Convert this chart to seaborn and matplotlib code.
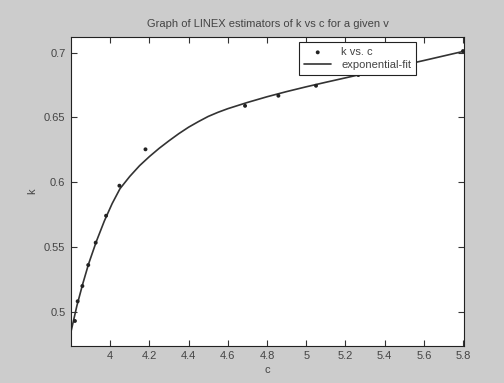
import matplotlib
matplotlib.use("Agg")
import matplotlib.pyplot as plt
import seaborn as sns
import pandas as pd

# data points (k vs. c)
c_pts = [3.820, 3.834, 3.858, 3.888, 3.926, 3.979, 4.047, 4.180, 4.688, 4.858, 5.050, 5.266, 5.800]
k_pts = [0.4928, 0.5080, 0.5198, 0.5360, 0.5533, 0.5741, 0.5973, 0.6254, 0.6590, 0.6668, 0.6745, 0.6828, 0.7013]

# exponential fit curve
c_fit = [3.80, 3.83, 3.86, 3.89, 3.93, 3.97, 4.01, 4.05, 4.10, 4.15, 4.20, 4.25, 4.30, 4.35,
         4.40, 4.45, 4.50, 4.55, 4.60, 4.70, 4.80, 4.90, 5.00, 5.10, 5.20, 5.30, 5.40, 5.50,
         5.60, 5.70, 5.80]
k_fit = [0.4846, 0.5045, 0.5215, 0.5370, 0.5545, 0.5700, 0.5835, 0.5950, 0.6045, 0.6128,
         0.6198, 0.6262, 0.6320, 0.6375, 0.6425, 0.6468, 0.6508, 0.6540, 0.6568, 0.6616,
         0.6660, 0.6700, 0.6737, 0.6772, 0.6806, 0.6840, 0.6873, 0.6906, 0.6940, 0.6975,
         0.7010]

xticks = [4, 4.2, 4.4, 4.6, 4.8, 5, 5.2, 5.4, 5.6, 5.8]
yticks = [0.5, 0.55, 0.6, 0.65, 0.7]

sns.set_style("ticks")
plt.rcParams['font.family'] = ['Liberation Sans', 'DejaVu Sans']

fig = plt.figure(figsize=(5.04, 3.83), dpi=100, facecolor="#cccccc")
ax = fig.add_axes([71/504, 1-345.7/383, 393/504, 309/383])
ax.set_facecolor("white")

df_pts = pd.DataFrame({"c": c_pts, "k": k_pts})
df_fit = pd.DataFrame({"c": c_fit, "k": k_fit})

sns.scatterplot(data=df_pts, x="c", y="k", ax=ax, color="#222222", s=8, marker="o",
                edgecolor="none", label="k vs. c", zorder=3)
sns.lineplot(data=df_fit, x="c", y="k", ax=ax, color="#333333", lw=1.2,
             label="exponential-fit", zorder=2)

ax.set_xlim(3.8, 5.805)
ax.set_ylim(0.4737, 0.7124)
ax.set_xticks(xticks)
ax.set_xticklabels([f"{t:g}" for t in xticks])
ax.set_yticks(yticks)
ax.set_yticklabels([f"{t:g}" for t in yticks])
ax.tick_params(direction="in", length=4, width=0.8, top=True, right=True,
               labelsize=8, colors="#333333", labelcolor="#444444", pad=4)
for s in ax.spines.values():
    s.set_visible(True)
    s.set_color("#222222")
    s.set_linewidth(0.8)

ax.set_xlabel("c", fontsize=8, color="#444444", labelpad=3)
ax.set_ylabel("k", fontsize=8, color="#444444", labelpad=5)
ax.set_title("Graph of LINEX estimators of k vs c for a given v", fontsize=8,
             color="#444444", pad=7)

leg = ax.legend(loc="upper right", bbox_to_anchor=(0.878, 0.982), fontsize=8,
                frameon=True, fancybox=False, framealpha=1, borderpad=0.45,
                handlelength=2.4, labelspacing=0.25, handletextpad=0.9, borderaxespad=0)
leg.set_zorder(5)
leg.get_frame().set_edgecolor("#222222")
leg.get_frame().set_linewidth(0.8)
for t in leg.get_texts():
    t.set_color("#444444")

fig.savefig("out.png", dpi=100, facecolor=fig.get_facecolor())
